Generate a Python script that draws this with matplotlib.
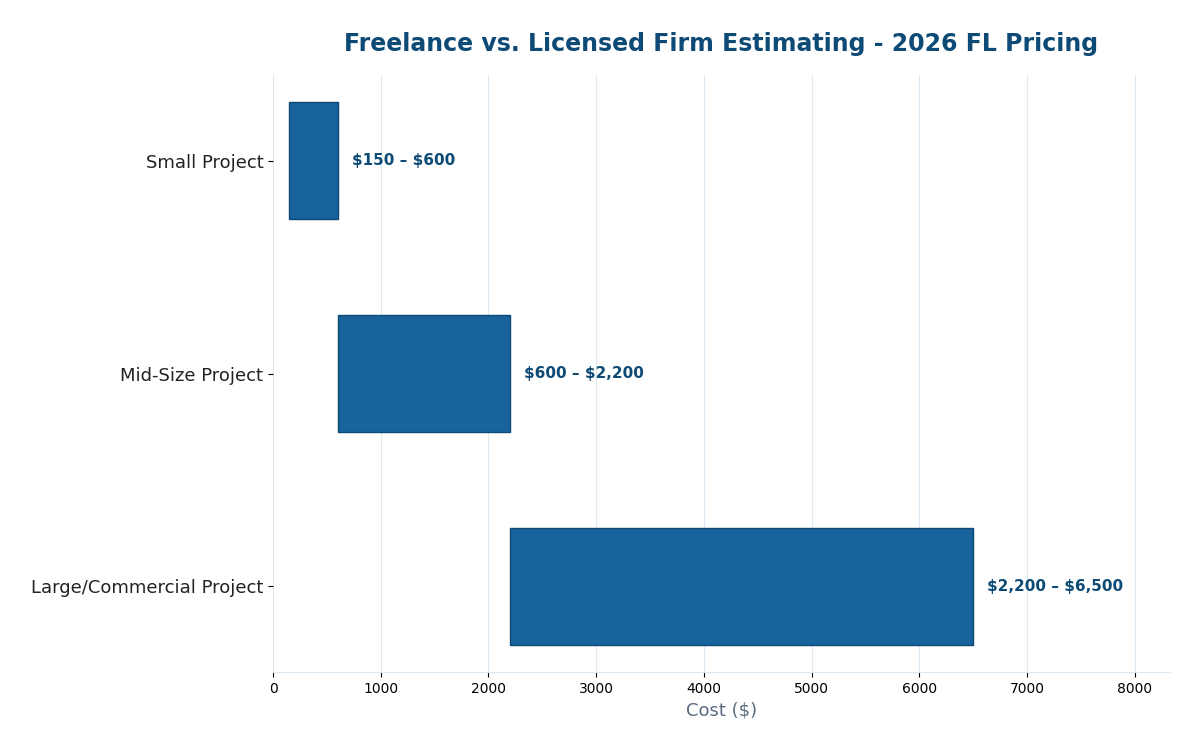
import matplotlib
matplotlib.use("Agg")
import matplotlib.pyplot as plt

plt.rcParams["text.parse_math"] = False

projects = ["Small Project", "Mid-Size Project", "Large/Commercial Project"]
low = [150, 600, 2200]
high = [600, 2200, 6500]
labels = ["$150 – $600", "$600 – $2,200", "$2,200 – $6,500"]

BAR = "#18639b"
EDGE = "#0e4874"
DARK = "#0d4a75"

fig, ax = plt.subplots(figsize=(12, 7.5), dpi=100)
fig.subplots_adjust(left=0.2275, right=0.975, top=0.9, bottom=0.104)

widths = [h - l for l, h in zip(low, high)]
ax.barh(projects, widths, left=low, height=0.55, color=BAR, edgecolor=EDGE, linewidth=1, zorder=3)
for i, (h, lab) in enumerate(zip(high, labels)):
    ax.text(h + 130, i, lab, va="center", ha="left", fontsize=11, fontweight="bold", color=DARK)

ax.invert_yaxis()
ax.set_xlim(0, 8325)
ax.grid(axis="x", color="#dce8f2", linewidth=0.8, zorder=0)
ax.set_axisbelow(True)
for s in ["top", "right", "left"]:
    ax.spines[s].set_visible(False)
ax.spines["bottom"].set_color("#dce8f2")
ax.tick_params(axis="y", labelsize=13, labelcolor="#222222")
ax.tick_params(axis="x", labelsize=10)
ax.set_xlabel("Cost ($)", fontsize=13, color="#5a6b80")
ax.set_title("Freelance vs. Licensed Firm Estimating - 2026 FL Pricing",
             fontsize=17, fontweight="bold", color=DARK, pad=17)

plt.savefig("out.png")
